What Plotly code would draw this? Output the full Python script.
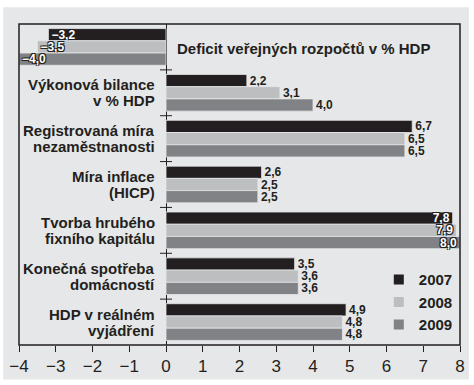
import plotly.graph_objects as go

# Categories (top to bottom) and yearly values in %
categories = [
    "Deficit veřejných rozpočtů v % HDP",
    "Výkonová bilance<br>v % HDP",
    "Registrovaná míra<br>nezaměstnanosti",
    "Míra inflace<br>(HICP)",
    "Tvorba hrubého<br>fixního kapitálu",
    "Konečná spotřeba<br>domácností",
    "HDP v reálném<br>vyjádření",
]
years = ["2007", "2008", "2009"]
values_2007 = [-3.2, 2.2, 6.7, 2.6, 7.8, 3.5, 4.9]
values_2008 = [-3.5, 3.1, 6.5, 2.5, 7.9, 3.6, 4.8]
values_2009 = [-4.0, 4.0, 6.5, 2.5, 8.0, 3.6, 4.8]
x_ticks = [-4, -3, -2, -1, 0, 1, 2, 3, 4, 5, 6, 7, 8]

series = [values_2007, values_2008, values_2009]
colors = ["#231f20", "#bcbec0", "#808285"]
BG = "#e6e7e8"
INK = "#231f20"
FONT = "Liberation Sans, Arial, Helvetica, sans-serif"
X_MIN, X_MAX = x_ticks[0], x_ticks[-1]
LINE_STEP = 16  # px between the lines of a wrapped category label


def fmt(v):
    return f"{v:.1f}".replace(".", ",").replace("-", "\u2212")


outline = ", ".join(f"{dx}px {dy}px 0 {INK}" for dx in (-1, 1) for dy in (-1, 1))

fig = go.Figure()
for year, vals, col in zip(years, series, colors):
    # labels sit inside the bar where the bar runs to the frame
    pos = ["inside" if (v < 0 or v >= 7.5) else "outside" for v in vals]
    fig.add_trace(go.Bar(
        name=year,
        y=list(range(len(categories))),
        x=vals,
        orientation="h",
        marker=dict(color=col, line=dict(color=BG, width=0.8)),
        text=[fmt(v) for v in vals],
        textposition=pos,
        insidetextanchor="end",
        constraintext="none",
        cliponaxis=False,
        insidetextfont=dict(family=FONT, size=12, color="white", weight="bold", shadow=outline),
        outsidetextfont=dict(family=FONT, size=12, color=INK, weight="bold"),
    ))

label_font = dict(family=FONT, size=15, color=INK, weight="bold")
annotations = []
for i, name in enumerate(categories):
    if i == 0:
        # the deficit row is labelled to the right of the zero line
        annotations.append(dict(x=0, y=i, xref="x", yref="y", text=name,
                                xanchor="left", yanchor="middle", xshift=9, yshift=-2,
                                showarrow=False, font=label_font))
        continue
    lines = name.split("<br>")
    for k, line in enumerate(lines):
        annotations.append(dict(x=0, y=i, xref="x", yref="y", text=line,
                                xanchor="right", yanchor="middle",
                                xshift=-9, yshift=((len(lines) - 1) / 2 - k) * LINE_STEP,
                                showarrow=False, font=label_font))

shapes = [
    # grey panel behind the chart
    dict(type="rect", xref="paper", yref="paper", layer="below",
         x0=-16 / 446, x1=1 + 9 / 446, y0=-35 / 326, y1=1 + 17 / 326,
         fillcolor=BG, line=dict(width=0)),
]
# short crossing ticks on the zero line between category rows
for i in range(len(categories) - 1):
    shapes.append(dict(type="line", xref="x", yref="y", xsizemode="pixel", xanchor=0,
                       x0=-6, x1=6, y0=i + 0.5, y1=i + 0.5,
                       line=dict(color=INK, width=1)))
# frame of the plotting area
shapes.append(dict(type="rect", xref="paper", yref="paper", layer="above",
                   x0=0, x1=1, y0=0, y1=1,
                   fillcolor="rgba(0,0,0,0)", line=dict(color=INK, width=1.5)))

fig.update_layout(
    width=474, height=385,
    margin=dict(l=19, r=9, t=24, b=35),
    paper_bgcolor="white",
    plot_bgcolor="rgba(0,0,0,0)",
    barmode="group",
    bargap=0.2,
    bargroupgap=0.0,
    font=dict(family=FONT, color=INK),
    showlegend=True,
    legend=dict(
        x=0.995, y=0.255, xanchor="right", yanchor="top",
        bgcolor="rgba(0,0,0,0)",
        font=dict(family=FONT, size=15, color=INK, weight="bold"),
        tracegroupgap=0, itemsizing="constant",
    ),
    xaxis=dict(
        range=[X_MIN, X_MAX],
        tickvals=x_ticks,
        ticktext=[str(t).replace("-", "\u2212") for t in x_ticks],
        ticks="outside", ticklen=6, tickcolor=INK, tickwidth=1,
        tickfont=dict(family=FONT, size=17, color=INK),
        showgrid=False,
        zeroline=True, zerolinecolor=INK, zerolinewidth=1,
        showline=False,
        fixedrange=True,
    ),
    yaxis=dict(
        range=[len(categories) - 0.5, -0.5],
        showticklabels=False, ticks="",
        showgrid=False, zeroline=False, showline=False,
        fixedrange=True,
    ),
    shapes=shapes,
    annotations=annotations,
)

fig.write_html("out.html")
